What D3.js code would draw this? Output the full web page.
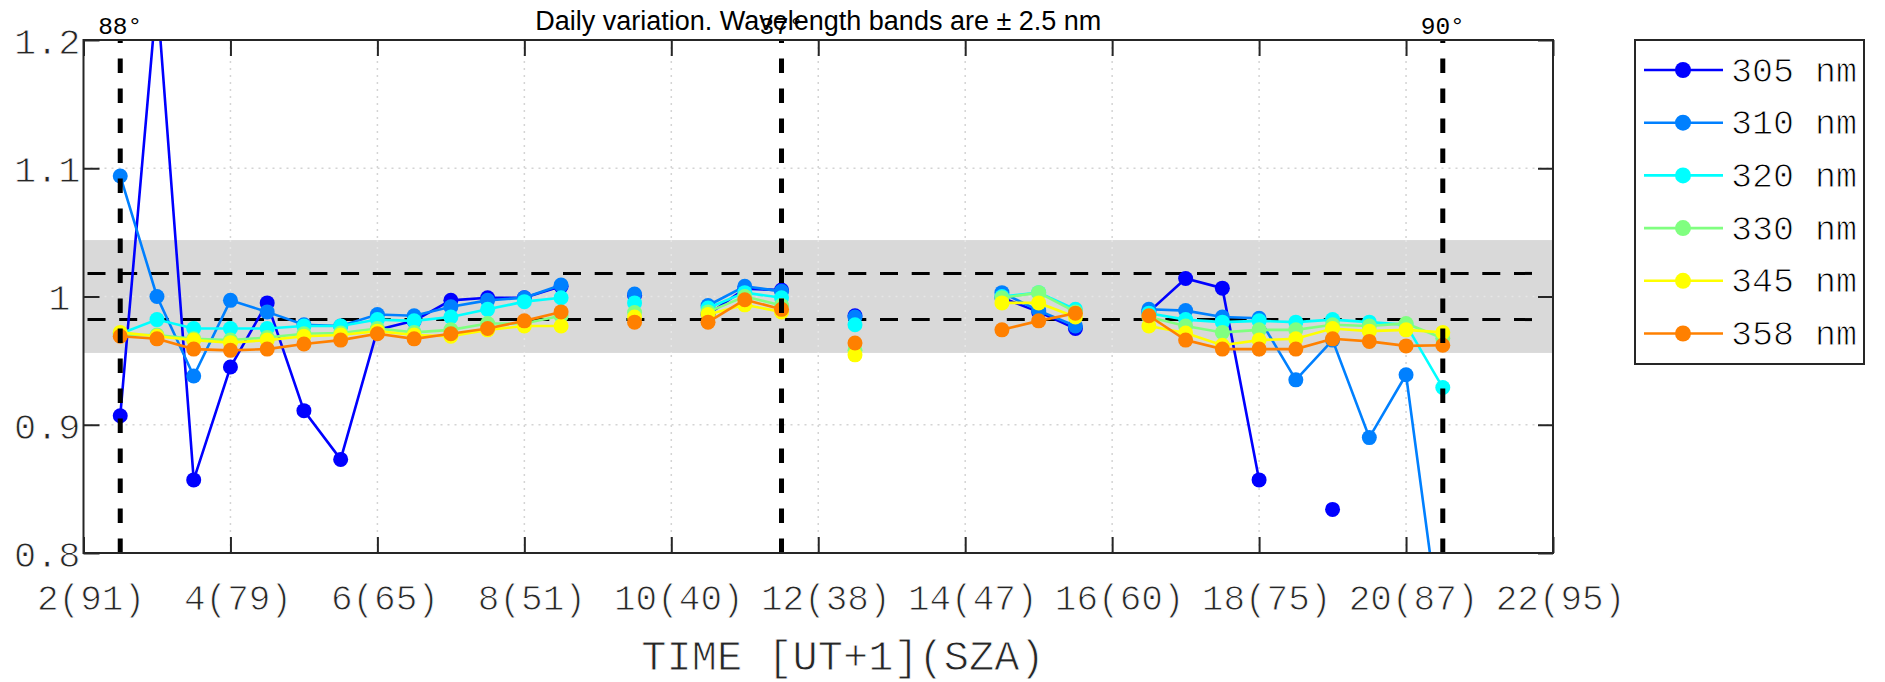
<!DOCTYPE html>
<html>
<head>
<meta charset="utf-8">
<script src="https://cdn.jsdelivr.net/npm/d3@7"></script>
<style>
  html, body { margin: 0; padding: 0; background: #ffffff; }
  svg { display: block; }
  .thin { stroke: #ffffff; stroke-width: 0.9px; paint-order: normal; }
</style>
</head>
<body>
<svg id="chart" width="1885" height="682"></svg>
<script>
// ---------------- DATA ----------------
const times = [2.5, 3.0, 3.5, 4.0, 4.5, 5.0, 5.5, 6.0, 6.5, 7.0, 7.5, 8.0, 8.5, 9.0, 9.5, 10.0, 10.5, 11.0, 11.5, 12.0, 12.5, 13.0, 13.5, 14.0, 14.5, 15.0, 15.5, 16.0, 16.5, 17.0, 17.5, 18.0, 18.5, 19.0, 19.5, 20.0, 20.5];

const s305 = [0.907, 1.236, 0.857, 0.945, 0.995, 0.911, 0.873, 0.974, 0.981, 0.997, 0.999, 0.999, 1.008, null, 1.001, null, 0.986, 1.006, 1.005, null, 0.985, null, null, null, 0.999, 0.988, 0.975, null, 0.988, 1.014, 1.0065, 0.857, null, 0.834, null, null, null];
const s310 = [1.094, 1.000, 0.938, 0.997, 0.988, 0.978, 0.977, 0.986, 0.985, 0.992, 0.997, 0.999, 1.009, null, 1.002, null, 0.993, 1.008, 1.004, null, 0.984, null, null, null, 1.003, 0.989, 0.977, null, 0.990, 0.989, 0.984, 0.983, 0.935, 0.966, 0.890, 0.939, 0.725];
const s320 = [0.971, 0.982, 0.975, 0.975, 0.975, 0.977, 0.977, 0.982, 0.981, 0.984, 0.990, 0.996, 0.999, null, 0.995, null, 0.991, 1.003, 0.999, null, 0.978, null, null, null, 1.000, 1.003, 0.990, null, 0.987, 0.982, 0.980, 0.981, 0.980, 0.982, 0.980, 0.978, 0.929];
const s330 = [0.970, 0.970, 0.967, 0.966, 0.968, 0.971, 0.9715, 0.975, 0.972, 0.974, 0.979, 0.979, 0.985, null, 0.9875, null, 0.988, 1.000, 0.993, null, 0.958, null, null, null, 0.999, 1.003, 0.988, null, 0.984, 0.977, 0.972, 0.974, 0.974, 0.978, 0.977, 0.979, 0.9675];
const s345 = [0.972, 0.969, 0.966, 0.964, 0.966, 0.969, 0.970, 0.973, 0.970, 0.969, 0.974, 0.977, 0.977, null, 0.984, null, 0.986, 0.9935, 0.988, null, 0.9545, null, null, null, 0.995, 0.995, 0.984, null, 0.977, 0.9715, 0.962, 0.966, 0.967, 0.975, 0.973, 0.974, 0.972];
const s358 = [0.969, 0.967, 0.959, 0.958, 0.959, 0.963, 0.966, 0.971, 0.967, 0.971, 0.975, 0.981, 0.988, null, 0.980, null, 0.980, 0.9975, 0.990, null, 0.9637, null, null, null, 0.974, 0.981, 0.987, null, 0.985, 0.966, 0.959, 0.959, 0.959, 0.967, 0.965, 0.9615, 0.962];

const seriesNames = ["305 nm", "310 nm", "320 nm", "330 nm", "345 nm", "358 nm"];
const seriesColors = ["#0000ff", "#0080ff", "#00ffff", "#80ff80", "#ffff00", "#ff8000"];
const seriesValues = [s305, s310, s320, s330, s345, s358];

const xTickValues = [2, 4, 6, 8, 10, 12, 14, 16, 18, 20, 22];
const xTickLabels = ["2(91)", "4(79)", "6(65)", "8(51)", "10(40)", "12(38)", "14(47)", "16(60)", "18(75)", "20(87)", "22(95)"];
const yTickValues = [0.8, 0.9, 1.0, 1.1, 1.2];
const yTickLabels = ["0.8", "0.9", "1", "1.1", "1.2"];

const szaLineTimes = [2.5, 11.5, 20.5];
const szaLineLabels = ["88°", "37°", "90°"];
const bandLimits = [0.956, 1.044];
const dashedLevels = [0.982, 1.018];

const titleText = "Daily variation. Wavelength bands are \u00B1 2.5 nm";
const xAxisTitle = "TIME [UT+1](SZA)";

// ---------------- LAYOUT ----------------
const L = 83.5, R = 1553, T = 40, B = 553;
const mono = "'Liberation Mono', 'Courier New', monospace";
const axisColor = "#262626";

const svg = d3.select("#chart");
const x = d3.scaleLinear().domain([2, 22]).range([L, R]);
const y = d3.scaleLinear().domain([0.8, 1.2]).range([B, T]);

svg.append("defs").append("clipPath").attr("id", "plotclip")
  .append("rect").attr("x", L).attr("y", T).attr("width", R - L).attr("height", B - T);

// grid (under band)
const gridX = xTickValues.filter(v => v > 2 && v < 22);
const gridY = yTickValues.filter(v => v > 0.8 && v < 1.2);
const grid = svg.append("g");
grid.selectAll("line.gx").data(gridX).join("line")
  .attr("x1", d => x(d)).attr("x2", d => x(d)).attr("y1", T).attr("y2", B)
  .attr("stroke", "#d4d4d4").attr("stroke-width", 1.5).attr("stroke-dasharray", "2,5");
grid.selectAll("line.gy").data(gridY).join("line")
  .attr("x1", L).attr("x2", R).attr("y1", d => y(d)).attr("y2", d => y(d))
  .attr("stroke", "#d4d4d4").attr("stroke-width", 1.5).attr("stroke-dasharray", "2,5");

// gray band
svg.append("rect")
  .attr("x", L).attr("width", R - L)
  .attr("y", y(bandLimits[1])).attr("height", y(bandLimits[0]) - y(bandLimits[1]))
  .attr("fill", "#d9d9d9");

// grid inside band (lighter)
const grid2 = svg.append("g");
grid2.selectAll("line").data(gridX).join("line")
  .attr("x1", d => x(d)).attr("x2", d => x(d))
  .attr("y1", y(bandLimits[1])).attr("y2", y(bandLimits[0]))
  .attr("stroke", "#e6e6e6").attr("stroke-width", 1.5).attr("stroke-dasharray", "2,5");
grid2.selectAll("line.gy").data(gridY.filter(v => v > bandLimits[0] && v < bandLimits[1])).join("line")
  .attr("x1", L).attr("x2", R).attr("y1", d => y(d)).attr("y2", d => y(d))
  .attr("stroke", "#e6e6e6").attr("stroke-width", 1.5).attr("stroke-dasharray", "2,5");

// horizontal dashed lines
svg.selectAll("line.hd").data(dashedLevels).join("line")
  .attr("x1", L + 4).attr("x2", R - 8).attr("y1", d => y(d)).attr("y2", d => y(d))
  .attr("stroke", "#000").attr("stroke-width", 3).attr("stroke-dasharray", "18,13.7");

// data
const plot = svg.append("g").attr("clip-path", "url(#plotclip)");
seriesValues.forEach((vals, i) => {
  const pts = times.map((t, k) => ({ t, v: vals[k] }));
  const line = d3.line().defined(d => d.v != null).x(d => x(d.t)).y(d => y(d.v));
  plot.append("path").datum(pts).attr("d", line)
    .attr("fill", "none").attr("stroke", seriesColors[i]).attr("stroke-width", 2.6);
  plot.selectAll(null).data(pts.filter(d => d.v != null)).join("circle")
    .attr("cx", d => x(d.t)).attr("cy", d => y(d.v)).attr("r", 7.5)
    .attr("fill", seriesColors[i]);
});

// vertical dashed lines (over data)
svg.selectAll("line.vd").data(szaLineTimes).join("line")
  .attr("x1", d => x(d)).attr("x2", d => x(d)).attr("y1", T).attr("y2", B)
  .attr("stroke", "#000").attr("stroke-width", 5)
  .attr("stroke-dasharray", "14.4,15.6").attr("stroke-dashoffset", 11.4);

// axes box
svg.append("rect").attr("x", L).attr("y", T).attr("width", R - L).attr("height", B - T)
  .attr("fill", "none").attr("stroke", axisColor).attr("stroke-width", 2);

// x axis (ticks inward) bottom
const xAxis = d3.axisBottom(x).tickValues(xTickValues)
  .tickFormat((d, i) => xTickLabels[i]).tickSizeInner(-16).tickSizeOuter(0).tickPadding(0);
const gx = svg.append("g").attr("transform", `translate(0,${B})`).call(xAxis);
gx.select(".domain").remove();
gx.selectAll(".tick line").attr("stroke", axisColor).attr("stroke-width", 2);
gx.selectAll(".tick text")
  .attr("class", "thin")
  .attr("font-family", mono).attr("font-size", 36).attr("fill", axisColor)
  .attr("y", 57).attr("dy", 0).attr("dx", 7);

// x axis top ticks
const xTop = d3.axisTop(x).tickValues(xTickValues).tickFormat("").tickSizeInner(-16).tickSizeOuter(0);
const gxt = svg.append("g").attr("transform", `translate(0,${T})`).call(xTop);
gxt.select(".domain").remove();
gxt.selectAll(".tick line").attr("stroke", axisColor).attr("stroke-width", 2);

// y axis left
const yAxis = d3.axisLeft(y).tickValues(yTickValues)
  .tickFormat((d, i) => yTickLabels[i]).tickSizeInner(-16).tickSizeOuter(0).tickPadding(3);
const gy = svg.append("g").attr("transform", `translate(${L},0)`).call(yAxis);
gy.select(".domain").remove();
gy.selectAll(".tick line").attr("stroke", axisColor).attr("stroke-width", 2);
gy.selectAll(".tick text")
  .attr("class", "thin")
  .attr("font-family", mono).attr("font-size", 37).attr("fill", axisColor)
  .attr("x", -3).attr("dy", "0.36em")
  .attr("dx", (d, i) => yTickLabels[i] === "1" ? -10 : 0);

// y axis right ticks
const yRight = d3.axisRight(y).tickValues(yTickValues).tickFormat("").tickSizeInner(-15).tickSizeOuter(0);
const gyr = svg.append("g").attr("transform", `translate(${R},0)`).call(yRight);
gyr.select(".domain").remove();
gyr.selectAll(".tick line").attr("stroke", axisColor).attr("stroke-width", 2);

// title
svg.append("text").attr("x", (L + R) / 2).attr("y", 30).attr("text-anchor", "middle")
  .attr("font-family", "'Liberation Sans', Arial, sans-serif").attr("font-size", 27)
  .attr("fill", "#000").text(titleText);

// SZA labels above dashed lines
svg.selectAll("text.sza").data(szaLineTimes).join("text")
  .attr("x", d => x(d)).attr("y", 34).attr("text-anchor", "middle")
  .attr("font-family", mono).attr("font-size", 24.5).attr("fill", "#000")
  .text((d, i) => szaLineLabels[i]);

// x axis title
svg.append("text").attr("class", "thin").attr("x", 843).attr("y", 670).attr("text-anchor", "middle")
  .attr("font-family", mono).attr("font-size", 42).attr("fill", axisColor).text(xAxisTitle);

// legend
const lg = svg.append("g");
lg.append("rect").attr("x", 1635).attr("y", 40).attr("width", 229).attr("height", 324)
  .attr("fill", "#fff").attr("stroke", axisColor).attr("stroke-width", 2);
const rowY = i => 70 + i * 52.7;
seriesNames.forEach((name, i) => {
  lg.append("line").attr("x1", 1644).attr("x2", 1723).attr("y1", rowY(i)).attr("y2", rowY(i))
    .attr("stroke", seriesColors[i]).attr("stroke-width", 2.6);
  lg.append("circle").attr("cx", 1683).attr("cy", rowY(i)).attr("r", 8).attr("fill", seriesColors[i]);
  lg.append("text").attr("class", "thin").attr("x", 1731).attr("y", rowY(i) + 11.5)
    .attr("font-family", mono).attr("font-size", 35).attr("fill", "#000").text(name);
});
</script>
</body>
</html>
